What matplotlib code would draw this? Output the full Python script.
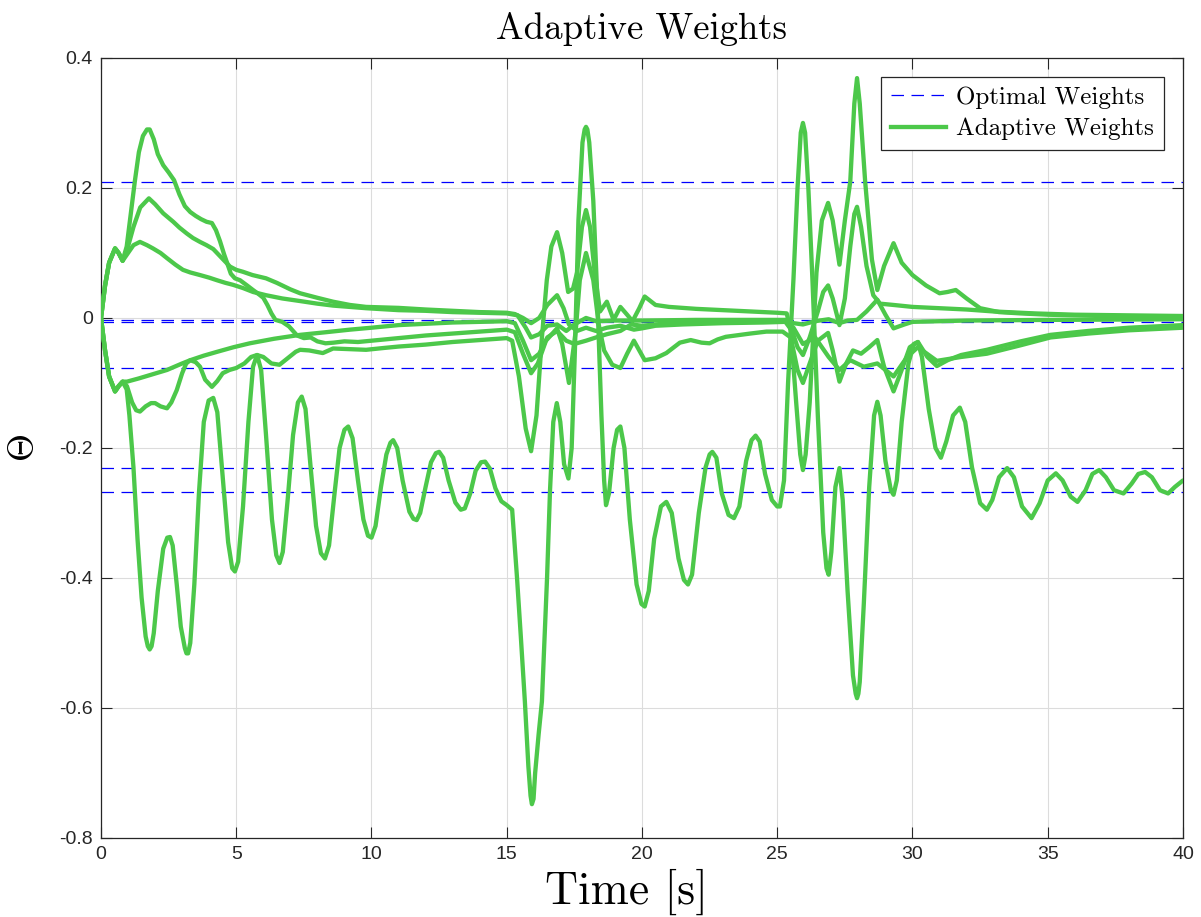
import matplotlib
matplotlib.use('Agg')
import matplotlib.pyplot as plt
from matplotlib.lines import Line2D

plt.rcParams['mathtext.fontset'] = 'cm'
plt.rcParams['font.family'] = ['Liberation Sans', 'DejaVu Sans']

# ── optimal weights (dashed references) ─────────────────────────────────────
theta_opt = [0.209, -0.003, -0.006, -0.077, -0.231, -0.267]

# ── adaptive weights ────────────────────────────────────────────────────────
w1_t = [0, 0.15, 0.3, 0.52, 0.65, 0.8, 0.95, 1.1, 1.25, 1.4, 1.55, 1.7, 1.8, 1.95, 2.1, 2.3, 2.5, 2.7,
        2.9, 3.1, 3.3, 3.5, 3.7, 3.9, 4.1, 4.25, 4.4, 4.55, 4.66, 4.8, 4.95, 5.14, 5.4, 5.62, 5.85,
        6.0, 6.15, 6.3, 6.45, 6.7, 6.95, 7.25, 7.5, 7.75, 8.0, 8.3, 8.6, 9.0, 9.5, 10.0, 10.5, 11.0,
        12.0, 13.0, 14.0, 15.0, 15.3, 15.6, 15.9, 16.15, 16.45, 16.86, 17.05, 17.3, 17.55, 17.7,
        17.93, 18.2, 18.4, 18.6, 18.9, 19.2, 19.45, 19.7, 19.9, 20.1, 20.5, 20.9, 21.4, 21.8, 22.2,
        22.5, 22.8, 23.1, 24.0, 24.6, 25.2, 25.5, 25.75, 25.95, 26.2, 26.5, 26.88, 27.05, 27.3,
        27.55, 27.8, 28.1, 28.4, 28.7, 28.95, 29.3, 29.6, 29.9, 30.2, 30.55, 30.9, 31.3, 31.8,
        32.75, 34.0, 35.1, 36.5, 38.0, 40.0]
w1_y = [0, 0.05, 0.085, 0.107, 0.1, 0.088, 0.11, 0.16, 0.21, 0.255, 0.28, 0.29, 0.29, 0.275, 0.252,
        0.235, 0.224, 0.212, 0.19, 0.172, 0.163, 0.157, 0.152, 0.148, 0.146, 0.135, 0.118, 0.098,
        0.085, 0.068, 0.061, 0.058, 0.05, 0.043, 0.036, 0.031, 0.02, 0.007, -0.003, -0.006, -0.013,
        -0.027, -0.031, -0.03, -0.036, -0.039, -0.038, -0.036, -0.037, -0.035, -0.033, -0.031,
        -0.027, -0.024, -0.021, -0.018, -0.022, -0.055, -0.085, -0.07, -0.035, -0.016, -0.04, -0.1,
        -0.02, 0.058, 0.10, 0.058, -0.01, -0.05, -0.072, -0.077, -0.055, -0.035, -0.05, -0.065,
        -0.062, -0.054, -0.038, -0.034, -0.038, -0.039, -0.033, -0.029, -0.024, -0.021, -0.021,
        -0.03, -0.08, -0.1, -0.07, -0.035, -0.023, -0.05, -0.098, -0.07, -0.05, -0.055, -0.045,
        -0.034, -0.075, -0.113, -0.08, -0.045, -0.037, -0.06, -0.074, -0.065, -0.057, -0.049,
        -0.036, -0.026, -0.02, -0.015, -0.011]

w2_t = [0, 0.15, 0.3, 0.52, 0.65, 0.8, 1.0, 1.2, 1.45, 1.77, 2.0, 2.3, 2.67, 2.9, 3.17, 3.4, 3.66,
        3.9, 4.15, 4.47, 4.77, 5.0, 5.25, 5.6, 6.1, 6.5, 7.0, 7.36, 8.0, 8.58, 9.2, 9.8, 11.0, 12.0,
        13.0, 14.0, 15.0, 15.3, 15.6, 15.9, 16.2, 16.5, 16.86, 17.1, 17.3, 17.6, 17.93, 18.3, 18.7,
        19.2, 19.7, 20.0, 20.5, 21.5, 23.0, 24.5, 25.3, 25.55, 25.75, 25.95, 26.2, 26.5, 26.7,
        26.88, 27.05, 27.3, 27.5, 27.7, 27.85, 27.95, 28.1, 28.3, 28.55, 28.8, 29.3, 30.0, 31.0,
        32.0, 33.0, 34.5, 36.0, 38.0, 40.0]
w2_y = [0, 0.05, 0.085, 0.107, 0.1, 0.088, 0.11, 0.14, 0.17, 0.184, 0.175, 0.161, 0.148, 0.139, 0.13,
        0.123, 0.117, 0.112, 0.106, 0.092, 0.079, 0.074, 0.071, 0.066, 0.061, 0.054, 0.044, 0.038,
        0.031, 0.025, 0.02, 0.017, 0.0155, 0.013, 0.011, 0.009, 0.008, 0.006, 0.0, -0.008, 0.0, 0.02,
        0.035, 0.015, -0.01, -0.02, -0.015, -0.02, -0.015, -0.012, -0.018, -0.016, -0.012, -0.01,
        -0.008, -0.007, -0.006, -0.02, -0.045, -0.057, -0.03, 0.01, 0.04, 0.05, 0.03, -0.011, 0.03,
        0.11, 0.16, 0.171, 0.14, 0.08, 0.035, 0.022, 0.02, 0.017, 0.015, 0.013, 0.01, 0.007, 0.005,
        0.004, 0.003]

w3_t = [0, 0.15, 0.3, 0.52, 0.65, 0.8, 1.0, 1.2, 1.44, 1.7, 1.92, 2.2, 2.44, 2.75, 3.03, 3.3, 3.66,
        4.0, 4.29, 4.6, 4.88, 5.25, 5.62, 6.1, 6.7, 7.36, 8.0, 8.58, 9.8, 11.0, 12.0, 13.0, 14.0,
        15.0, 15.4, 15.7, 15.9, 16.2, 16.5, 16.86, 17.2, 17.5, 17.93, 18.3, 19.0, 20.0, 22.0, 24.0,
        25.3, 25.6, 25.95, 26.4, 26.9, 27.3, 27.6, 27.95, 28.3, 28.7, 29.0, 29.3, 29.7, 30.0, 32.0,
        35.0, 40.0]
w3_y = [0, 0.05, 0.085, 0.107, 0.1, 0.088, 0.1, 0.112, 0.117, 0.112, 0.107, 0.1, 0.092, 0.082, 0.074,
        0.07, 0.066, 0.062, 0.058, 0.054, 0.051, 0.046, 0.04, 0.035, 0.03, 0.026, 0.022, 0.019,
        0.015, 0.012, 0.011, 0.009, 0.008, 0.007, 0.004, -0.015, -0.03, -0.025, -0.012, -0.01, -0.02,
        -0.01, 0.0, -0.005, -0.004, -0.004, -0.003, -0.003, -0.003, -0.008, -0.01, -0.005, -0.002,
        -0.008, -0.004, -0.003, 0.01, 0.028, 0.005, -0.016, -0.01, -0.006, -0.004, -0.003, -0.002]

w4_t = [0, 0.15, 0.3, 0.52, 0.65, 0.8, 0.96, 1.4, 1.8, 2.44, 3.0, 3.3, 3.8, 4.3, 4.9, 5.5, 6.4, 7.36,
        8.3, 9.2, 10.0, 11.0, 12.0, 13.0, 14.0, 15.0, 15.3, 15.6, 15.9, 16.2, 16.5, 16.86, 17.2, 17.5,
        17.93, 18.3, 18.7, 19.2, 19.6, 20.0, 21.0, 22.5, 24.0, 25.3, 25.6, 25.95, 26.4, 26.9, 27.3,
        27.7, 28.2, 28.7, 29.3, 29.8, 30.2, 30.9, 31.8, 32.75, 34.0, 35.1, 36.5, 38.0, 40.0]
w4_y = [0, -0.05, -0.09, -0.113, -0.105, -0.098, -0.098, -0.093, -0.088, -0.08, -0.07, -0.065, -0.058,
        -0.052, -0.045, -0.039, -0.032, -0.026, -0.022, -0.018, -0.015, -0.011, -0.009, -0.007,
        -0.006, -0.005, -0.008, -0.035, -0.065, -0.055, -0.03, -0.02, -0.035, -0.04, -0.035, -0.03,
        -0.025, -0.02, -0.01, -0.012, -0.008, -0.006, -0.005, -0.004, -0.015, -0.04, -0.03, -0.06,
        -0.08, -0.065, -0.075, -0.07, -0.09, -0.06, -0.045, -0.066, -0.06, -0.055, -0.042, -0.03,
        -0.024, -0.019, -0.015]

w5_t = [0, 0.15, 0.3, 0.52, 0.65, 0.8, 0.96, 1.15, 1.3, 1.44, 1.65, 1.85, 2.0, 2.2, 2.44, 2.6, 2.8,
        3.0, 3.15, 3.3, 3.5, 3.66, 3.85, 4.1, 4.3, 4.5, 4.75, 5.0, 5.3, 5.55, 5.77, 6.0, 6.3, 6.6,
        6.9, 7.2, 7.36, 7.7, 8.2, 8.58, 9.2, 9.8, 10.5, 11.0, 12.0, 13.0, 14.0, 15.0, 15.2, 15.45,
        15.7, 15.9, 16.1, 16.3, 16.48, 16.65, 16.86, 17.05, 17.27, 17.45, 17.6, 17.78, 17.93, 18.08,
        18.25, 18.45, 18.7, 18.95, 19.2, 19.45, 19.65, 19.9, 20.1, 20.5, 21.0, 22.0, 23.0, 24.0, 25.0,
        25.35, 25.5, 25.7, 25.85, 25.95, 26.05, 26.2, 26.45, 26.65, 26.88, 27.05, 27.3, 27.5, 27.7,
        27.85, 27.95, 28.05, 28.25, 28.5, 28.7, 28.95, 29.3, 29.6, 30.0, 30.5, 31.0, 31.3, 31.6,
        32.0, 32.5, 33.2, 34.0, 35.0, 37.0, 40.0]
w5_y = [0, -0.05, -0.09, -0.113, -0.105, -0.098, -0.105, -0.13, -0.142, -0.144, -0.136, -0.131,
        -0.131, -0.136, -0.139, -0.13, -0.111, -0.085, -0.07, -0.065, -0.068, -0.075, -0.095, -0.106,
        -0.097, -0.085, -0.08, -0.077, -0.07, -0.06, -0.057, -0.06, -0.07, -0.072, -0.062, -0.052,
        -0.049, -0.05, -0.054, -0.047, -0.048, -0.049, -0.046, -0.044, -0.041, -0.037, -0.034,
        -0.031, -0.035, -0.09, -0.17, -0.205, -0.15, -0.03, 0.058, 0.11, 0.132, 0.1, 0.04, 0.045,
        0.07, 0.14, 0.166, 0.14, 0.07, 0.01, 0.025, -0.003, 0.017, 0.005, -0.005, 0.015, 0.033, 0.02,
        0.017, 0.014, 0.012, 0.01, 0.008, 0.007, -0.02, -0.13, -0.21, -0.234, -0.21, -0.13, 0.07,
        0.15, 0.177, 0.15, 0.082, 0.15, 0.21, 0.33, 0.369, 0.33, 0.21, 0.09, 0.043, 0.08, 0.115,
        0.085, 0.066, 0.05, 0.038, 0.04, 0.043, 0.03, 0.015, 0.009, 0.007, 0.005, 0.003, 0.002]

w6_t = [0, 0.15, 0.3, 0.52, 0.65, 0.8, 0.95, 1.05, 1.2, 1.35, 1.5, 1.65, 1.73, 1.8, 1.87, 1.95, 2.1,
        2.3, 2.45, 2.55, 2.65, 2.8, 2.95, 3.1, 3.16, 3.22, 3.3, 3.45, 3.62, 3.8, 3.98, 4.15, 4.3, 4.5,
        4.7, 4.85, 4.95, 5.07, 5.25, 5.45, 5.62, 5.77, 5.92, 6.1, 6.32, 6.48, 6.6, 6.72, 6.9, 7.1,
        7.28, 7.42, 7.56, 7.75, 7.95, 8.13, 8.28, 8.43, 8.62, 8.82, 9.0, 9.14, 9.3, 9.5, 9.7, 9.87,
        10.0, 10.15, 10.35, 10.55, 10.7, 10.8, 10.95, 11.15, 11.4, 11.55, 11.67, 11.8, 12.0, 12.2,
        12.38, 12.5, 12.65, 12.85, 13.1, 13.3, 13.45, 13.65, 13.85, 14.05, 14.2, 14.38, 14.58, 14.8,
        15.0, 15.2, 15.38, 15.52, 15.67, 15.8, 15.88, 15.93, 15.99, 16.05, 16.18, 16.3, 16.49, 16.6,
        16.72, 16.85, 16.98, 17.12, 17.28, 17.4, 17.52, 17.65, 17.8, 17.88, 17.93, 17.98, 18.05, 18.2,
        18.35, 18.5, 18.6, 18.67, 18.78, 18.95, 19.08, 19.2, 19.35, 19.55, 19.8, 19.98, 20.1, 20.25,
        20.45, 20.7, 20.9, 21.1, 21.35, 21.55, 21.7, 21.85, 22.1, 22.35, 22.5, 22.6, 22.75, 22.95,
        23.2, 23.4, 23.6, 23.85, 24.05, 24.2, 24.35, 24.55, 24.8, 25.0, 25.1, 25.25, 25.4, 25.6,
        25.75, 25.87, 25.95, 26.03, 26.15, 26.3, 26.5, 26.7, 26.82, 26.9, 27.0, 27.15, 27.3, 27.42,
        27.6, 27.8, 27.9, 27.95, 28.0, 28.05, 28.2, 28.4, 28.58, 28.7, 28.82, 29.0, 29.2, 29.3, 29.42,
        29.6, 29.85, 30.05, 30.2, 30.35, 30.6, 30.85, 31.05, 31.25, 31.5, 31.75, 31.95, 32.2, 32.5,
        32.75, 32.95, 33.2, 33.5, 33.75, 34.05, 34.4, 34.7, 35.0, 35.3, 35.55, 35.85, 36.1, 36.4,
        36.65, 36.9, 37.15, 37.45, 37.8, 38.1, 38.35, 38.6, 38.85, 39.15, 39.45, 39.7, 40.0]
w6_y = [0, -0.05, -0.09, -0.113, -0.105, -0.098, -0.11, -0.15, -0.23, -0.34, -0.43, -0.49, -0.505,
        -0.51, -0.505, -0.485, -0.42, -0.355, -0.338, -0.337, -0.35, -0.41, -0.475, -0.508, -0.516,
        -0.516, -0.5, -0.41, -0.27, -0.16, -0.127, -0.123, -0.145, -0.245, -0.345, -0.385, -0.39,
        -0.375, -0.29, -0.16, -0.075, -0.057, -0.08, -0.18, -0.31, -0.365, -0.377, -0.36, -0.28,
        -0.18, -0.13, -0.121, -0.14, -0.23, -0.32, -0.362, -0.37, -0.35, -0.275, -0.2, -0.172,
        -0.167, -0.185, -0.25, -0.31, -0.335, -0.338, -0.32, -0.26, -0.21, -0.192, -0.188, -0.2,
        -0.25, -0.298, -0.309, -0.311, -0.3, -0.26, -0.222, -0.208, -0.206, -0.215, -0.25, -0.284,
        -0.295, -0.293, -0.27, -0.235, -0.222, -0.221, -0.232, -0.262, -0.282, -0.288, -0.295, -0.4,
        -0.49, -0.59, -0.69, -0.735, -0.748, -0.74, -0.7, -0.64, -0.59, -0.4, -0.265, -0.16, -0.131,
        -0.16, -0.225, -0.247, -0.2, -0.05, 0.15, 0.27, 0.29, 0.294, 0.29, 0.27, 0.18, 0.03, -0.15,
        -0.25, -0.288, -0.27, -0.2, -0.172, -0.167, -0.2, -0.31, -0.41, -0.44, -0.444, -0.42, -0.34,
        -0.29, -0.283, -0.3, -0.37, -0.403, -0.41, -0.395, -0.3, -0.23, -0.21, -0.206, -0.215, -0.27,
        -0.303, -0.308, -0.29, -0.22, -0.188, -0.181, -0.19, -0.24, -0.28, -0.29, -0.29, -0.25, -0.1,
        0.06, 0.2, 0.285, 0.3, 0.285, 0.2, 0.06, -0.15, -0.33, -0.385, -0.395, -0.36, -0.26, -0.231,
        -0.28, -0.42, -0.55, -0.578, -0.585, -0.578, -0.56, -0.44, -0.26, -0.15, -0.129, -0.15,
        -0.22, -0.265, -0.272, -0.25, -0.16, -0.07, -0.04, -0.037, -0.06, -0.14, -0.2, -0.215, -0.19,
        -0.15, -0.138, -0.16, -0.23, -0.285, -0.295, -0.28, -0.245, -0.231, -0.245, -0.29, -0.308,
        -0.285, -0.25, -0.239, -0.25, -0.275, -0.283, -0.265, -0.24, -0.234, -0.245, -0.265, -0.27,
        -0.255, -0.24, -0.237, -0.245, -0.265, -0.27, -0.26, -0.25]

weights = [(w1_t, w1_y), (w2_t, w2_y), (w3_t, w3_y), (w4_t, w4_y), (w5_t, w5_y), (w6_t, w6_y)]

GREEN = '#4cc84a'
BLUE = '#0000ff'
DARK = '#262626'

fig = plt.figure(figsize=(12.01, 9.17), dpi=100)
ax = fig.add_axes([0.0841, 0.0862, 0.9009, 0.8506])

for v in theta_opt:
    ax.axhline(v, color=BLUE, lw=0.9, dashes=(10, 6), zorder=2)

for t, y in weights:
    ax.plot(t, y, color=GREEN, lw=3.1, solid_joinstyle='round', solid_capstyle='round', zorder=3)

ax.set_xlim(0, 40)
ax.set_ylim(-0.8, 0.4)
ax.set_xticks(range(0, 41, 5))
ax.set_yticks([-0.8, -0.6, -0.4, -0.2, 0, 0.2, 0.4])
ax.set_yticklabels(['-0.8', '-0.6', '-0.4', '-0.2', '0', '0.2', '0.4'])
ax.tick_params(direction='in', length=8, width=0.8, top=True, right=True,
               labelsize=14, colors=DARK, pad=6)
for s in ax.spines.values():
    s.set_color(DARK)
    s.set_linewidth(0.9)
ax.grid(True, color='#dcdcdc', lw=0.8)
ax.set_axisbelow(True)

ax.set_title('Adaptive Weights', family='cmr10', fontsize=26.5, pad=14)
ax.set_xlabel('Time [s]', family='cmr10', fontsize=33, labelpad=4)
ax.xaxis.label.set_x(0.486)
ax.set_ylabel(r'$\Theta$', fontsize=26, labelpad=12)

handles = [Line2D([], [], color=BLUE, lw=0.9, dashes=(10, 6)),
           Line2D([], [], color=GREEN, lw=3.1)]
leg = ax.legend(handles, ['Optimal Weights', 'Adaptive Weights'], loc='upper right',
                prop={'family': 'cmr10', 'size': 18}, fancybox=False, framealpha=1,
                edgecolor=DARK, handlelength=2.2, borderaxespad=0.75, borderpad=0.4,
                labelspacing=0.35, handletextpad=0.4)
leg.get_frame().set_linewidth(0.9)

fig.savefig('out.png', dpi=100)
